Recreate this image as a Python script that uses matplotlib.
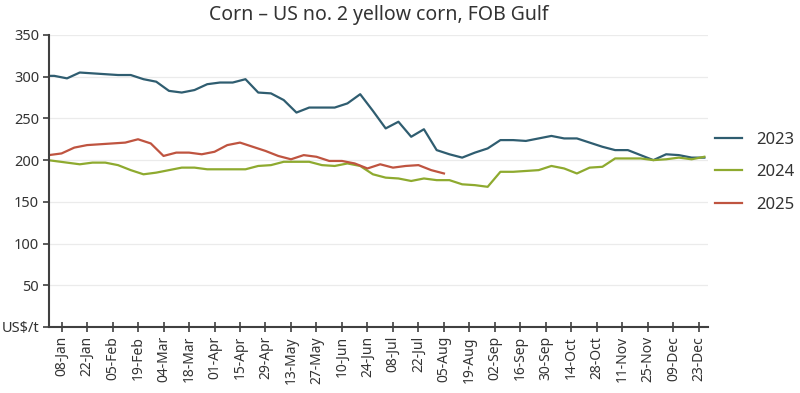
import numpy as np
import matplotlib
matplotlib.use("Agg")
import matplotlib.pyplot as plt

plt.rcParams['font.family'] = ['Noto Sans', 'DejaVu Sans']

title = "Corn – US no. 2 yellow corn, FOB Gulf"
tick_labels = ["08-Jan", "22-Jan", "05-Feb", "19-Feb", "04-Mar", "18-Mar", "01-Apr",
               "15-Apr", "29-Apr", "13-May", "27-May", "10-Jun", "24-Jun", "08-Jul",
               "22-Jul", "05-Aug", "19-Aug", "02-Sep", "16-Sep", "30-Sep", "14-Oct",
               "28-Oct", "11-Nov", "25-Nov", "09-Dec", "23-Dec"]
tick_days = np.arange(7, 358, 14)

# weekly values (first value = last week of previous year, reaching the axis edge)
v2023 = [301, 301, 298, 305, 304, 303, 302, 302, 297, 294, 283, 281, 284, 291, 293,
         293, 297, 281, 280, 272, 257, 263, 263, 263, 268, 279, 259, 238, 246, 228,
         237, 212, 207, 203, 209, 214, 224, 224, 223, 226, 229, 226, 226, 221, 216,
         212, 212, 206, 200, 207, 206, 203, 203]
v2024 = [201, 199, 197, 195, 197, 197, 194, 188, 183, 185, 188, 191, 191, 189, 189,
         189, 189, 193, 194, 198, 198, 198, 194, 193, 196, 193, 183, 179, 178, 175,
         178, 176, 176, 171, 170, 168, 186, 186, 187, 188, 193, 190, 184, 191, 192,
         202, 202, 202, 200, 201, 203, 201, 204]
v2025 = [206, 208, 215, 218, 219, 220, 221, 225, 220, 205, 209, 209, 207, 210, 218,
         221, 216, 211, 205, 201, 206, 204, 199, 199, 196, 190, 195, 191, 193, 194,
         188, 184]

days_2023 = 3 + 7 * np.arange(-1, len(v2023) - 1)
days_2024 = 3 + 7 * np.arange(-1, len(v2024) - 1)
days_2025 = 7 * np.arange(len(v2025))

c23, c24, c25 = '#2F5D70', '#8EAA2F', '#BF5440'
axis_col = '#404040'
text_col = '#333333'

fig = plt.figure(figsize=(8, 3.93), dpi=100)
ax = fig.add_axes([0.061, 0.168, 0.824, 0.743])

ax.plot(days_2023, v2023, color=c23, lw=1.6, label='2023', solid_joinstyle='round')
ax.plot(days_2024, v2024, color=c24, lw=1.6, label='2024', solid_joinstyle='round')
ax.plot(days_2025, v2025, color=c25, lw=1.6, label='2025', solid_joinstyle='round')

ax.set_xlim(0, 362)
ax.set_ylim(0, 350)
yt = np.arange(0, 351, 50)
ax.set_yticks(yt)
ax.set_yticklabels(['US$/t'] + [str(v) for v in yt[1:]], fontsize=10.5, color=text_col)
ax.set_xticks(tick_days)
ax.set_xticklabels(tick_labels, rotation=90, fontsize=10, color=text_col)

ax.yaxis.grid(True, color='#EBEBEB', lw=0.9)
ax.set_axisbelow(True)
for s in ['top', 'right']:
    ax.spines[s].set_visible(False)
for s in ['left', 'bottom']:
    ax.spines[s].set_color(axis_col)
    ax.spines[s].set_linewidth(1.5)
ax.tick_params(axis='y', direction='out', length=4, width=1.2, color=axis_col, pad=3)
ax.tick_params(axis='x', direction='inout', length=7, width=1.2, color=axis_col, pad=3)

ax.set_title(title, fontsize=14, color=text_col, pad=11)

ax.legend(loc='center left', bbox_to_anchor=(0.993, 0.53), frameon=False,
          fontsize=12, handlelength=1.6, handletextpad=0.85, labelspacing=1.0,
          borderpad=0.2, labelcolor=text_col)

fig.savefig('out.png', dpi=100, facecolor='white')
